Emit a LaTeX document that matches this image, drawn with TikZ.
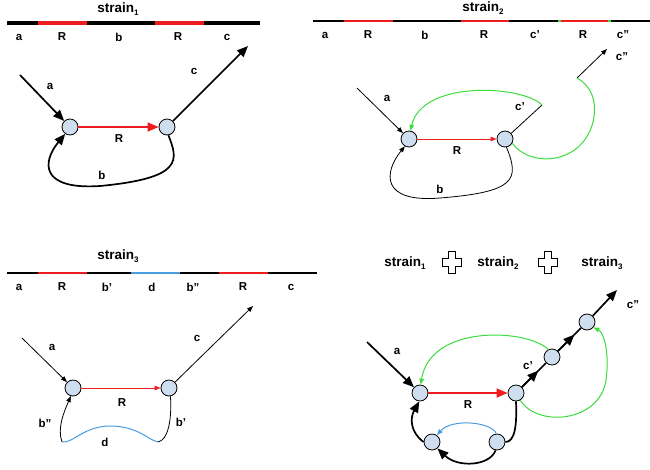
\documentclass[tikz,border=0pt]{standalone}
\usepackage{fontspec}
\setmainfont{Liberation Sans}
\usetikzlibrary{arrows.meta,calc}
\definecolor{nodefill}{HTML}{CFDEEE}
\definecolor{myred}{HTML}{EE1C1C}
\definecolor{mygreen}{HTML}{3CDC3C}
\definecolor{myblue}{HTML}{4A9CE0}
\newcommand{\strn}[1]{strain\raisebox{-0.35ex}{\fontsize{8}{8}\selectfont #1}}
\begin{document}
\begin{tikzpicture}[x=1pt,y=-1pt,
  lbl/.style={font=\fontsize{11.5}{13}\selectfont\bfseries, inner sep=0pt},
  ttl/.style={font=\fontsize{13.5}{15}\selectfont\bfseries, inner sep=0pt},
  vtx/.style={circle, draw=black, fill=nodefill, line width=0.8pt, minimum size=16pt, inner sep=0pt},
  bigtip/.style={-{Triangle[length=11pt,width=9pt]}},
  smalltip/.style={-{Triangle[length=6pt,width=4.5pt]}},
  thk/.style={line width=1.7pt},
  thn/.style={line width=0.8pt},
  gline/.style={mygreen, line width=1pt},
  bline/.style={myblue, line width=1pt},
  bar/.style={line cap=butt},
  pluss/.style={line width=0.8pt, draw=black}
]
\useasboundingbox (0,0) rectangle (650,469);

% ================= Panel 1 =================
\node[ttl] (t1) at (118,9) {\strn{1}};
\begin{scope}[line width=4pt, bar]
\draw[black] (7,23) -- (38,23);
\draw[myred] (38,23) -- (87,23);
\draw[black] (87,23) -- (155,23);
\draw[myred] (155,23) -- (204,23);
\draw[black] (204,23) -- (260,23);
\end{scope}
\node[lbl] (p1a) at (19,37) {a};
\node[lbl] (p1r1) at (62,37) {R};
\node[lbl] (p1b) at (119,37) {b};
\node[lbl] (p1r2) at (178,37) {R};
\node[lbl] (p1c) at (227,37) {c};

\node[vtx] (n11) at (70,127) {};
\node[vtx] (n12) at (167,127) {};
\coordinate (s1a) at (20,75);
\coordinate (e1c) at (248,46);
\draw[thk,bigtip] (s1a) -- (n11);
\draw[thk,bigtip,myred] (n11) -- (n12);
\draw[thk,bigtip] (n12) -- (e1c);
\draw[thk,bigtip] (n12.-80) .. controls (178,160) and (184,178) .. (100,186)
   .. controls (40,190) and (42,162) .. (n11.-125);
\node[lbl] (l1a) at (50,86) {a};
\node[lbl] (l1r) at (119,139) {R};
\node[lbl] (l1c) at (194,71) {c};
\node[lbl] (l1b) at (102,175) {b};

% ================= Panel 2 =================
\node[ttl] (t2) at (483,8) {\strn{2}};
\begin{scope}[line width=2pt, bar]
\draw[black] (313,21) -- (344,21);
\draw[myred] (344,21) -- (393,21);
\draw[black] (393,21) -- (461,21);
\draw[myred] (461,21) -- (509,21);
\draw[black] (509,21) -- (558,21);
\draw[mygreen] (558,21) -- (561,21);
\draw[myred] (561,21) -- (608,21);
\draw[mygreen] (608,21) -- (611,21);
\draw[black] (611,21) -- (650,21);
\end{scope}
\node[lbl] (p2a) at (325,35) {a};
\node[lbl] (p2r1) at (368,35) {R};
\node[lbl] (p2b) at (425,35) {b};
\node[lbl] (p2r2) at (484,35) {R};
\node[lbl] (p2c1) at (535,35) {c'};
\node[lbl] (p2r3) at (583,35) {R};
\node[lbl] (p2c2) at (623,35) {c''};

\node[vtx] (n21) at (409,139) {};
\node[vtx] (n22) at (505,139) {};
\coordinate (s2a) at (357,88);
\coordinate (cp) at (542,105);
\coordinate (cq) at (577,78);
\coordinate (e2c) at (607,49);
\draw[thn,smalltip] (s2a) -- (n21);
\draw[thn,smalltip,myred] (n21) -- (n22);
\draw[thn] (n22) -- (cp);
\draw[gline,smalltip] (cp) .. controls (522,85) and (422,80) .. (n21.80);
\draw[thn,smalltip] (cq) -- (e2c);
\draw[gline] (n22.-30) .. controls (530,168) and (582,165) .. (593,122)
   .. controls (598,100) and (590,85) .. (cq);
\draw[thn,smalltip] (n22.-80) .. controls (520,180) and (515,192) .. (440,198)
   .. controls (380,203) and (384,172) .. (n21.-120);
\node[lbl] (l2a) at (387,98) {a};
\node[lbl] (l2r) at (457,151) {R};
\node[lbl] (l2c1) at (520,107) {c'};
\node[lbl] (l2c2) at (622,57) {c''};
\node[lbl] (l2b) at (440,189) {b};

% ================= Panel 3 =================
\node[ttl] (t3) at (118,256) {\strn{3}};
\begin{scope}[line width=2pt, bar]
\draw[black] (7,273) -- (38,273);
\draw[myred] (38,273) -- (87,273);
\draw[black] (87,273) -- (131,273);
\draw[myblue] (131,273) -- (180,273);
\draw[black] (180,273) -- (219,273);
\draw[myred] (219,273) -- (268,273);
\draw[black] (268,273) -- (317,273);
\end{scope}
\node[lbl] (p3a) at (19,287) {a};
\node[lbl] (p3r1) at (62,287) {R};
\node[lbl] (p3b1) at (107,287) {b'};
\node[lbl] (p3d) at (152,287) {d};
\node[lbl] (p3b2) at (193,287) {b''};
\node[lbl] (p3r2) at (243,287) {R};
\node[lbl] (p3c) at (291,287) {c};

\node[vtx] (n31) at (73,388) {};
\node[vtx] (n32) at (169,388) {};
\coordinate (s3a) at (22,338);
\coordinate (e3c) at (253,306);
\coordinate (dR) at (158,442);
\coordinate (dL) at (62,442);
\draw[thn,smalltip] (s3a) -- (n31);
\draw[thn,smalltip,myred] (n31) -- (n32);
\draw[thn,smalltip] (n32) -- (e3c);
\draw[thn] (n32.-80) .. controls (172,420) and (168,440) .. (dR);
\draw[bline] (dR) .. controls (148,440) and (138,426) .. (110,426)
   .. controls (84,426) and (72,444) .. (dL);
\draw[thn,smalltip] (dL) .. controls (57,428) and (64,412) .. (n31.-105);
\node[lbl] (l3a) at (52,347) {a};
\node[lbl] (l3r) at (122,403) {R};
\node[lbl] (l3c) at (197,338) {c};
\node[lbl] (l3b1) at (181,422) {b'};
\node[lbl] (l3b2) at (45,423) {b''};
\node[lbl] (l3d) at (105,442) {d};

% ================= Panel 4 =================
\node[ttl] (u1) at (405,263) {\strn{1}};
\node[ttl] (u2) at (498,263) {\strn{2}};
\node[ttl] (u3) at (602,263) {\strn{3}};
\draw[pluss] (442,258) -- ++(6,0) -- ++(0,-7) -- ++(7,0) -- ++(0,7) -- ++(6,0) -- ++(0,8)
  -- ++(-6,0) -- ++(0,7) -- ++(-7,0) -- ++(0,-7) -- ++(-6,0) -- cycle;
\draw[pluss] (538,258) -- ++(6,0) -- ++(0,-7) -- ++(7,0) -- ++(0,7) -- ++(6,0) -- ++(0,8)
  -- ++(-6,0) -- ++(0,7) -- ++(-7,0) -- ++(0,-7) -- ++(-6,0) -- cycle;

\node[vtx] (m1) at (420,393) {};
\node[vtx] (m2) at (516,393) {};
\node[vtx] (m3) at (552,357) {};
\node[vtx] (m4) at (587,322) {};
\node[vtx] (m5) at (432,442) {};
\node[vtx] (m6) at (497,442) {};
\coordinate (s4a) at (367,342);
\coordinate (e4c) at (617,290);
\draw[thk,bigtip] (s4a) -- (m1);
\draw[thk,bigtip,myred] (m1) -- (m2);
\draw[thk] (m2) -- (m3);
\draw[thk,bigtip] (m2) -- ($(m2)!0.62!(m3)$);
\draw[thk] (m3) -- (m4);
\draw[thk,bigtip] (m3) -- ($(m3)!0.64!(m4)$);
\draw[thk,bigtip] (m4) -- (e4c);
\draw[gline,smalltip] (m3.115) .. controls (525,328) and (430,325) .. (m1.85);
\draw[gline,smalltip] (m2.-60) .. controls (538,428) and (600,422) .. (606,380)
   .. controls (610,350) and (603,332) .. (m4.-40);
\draw[thk] (m2.-90) .. controls (517,425) and (515,442) .. (m6.east);
\draw[thk,bigtip] (m6.-100) .. controls (490,466) and (458,468) .. (m5.-50);
\draw[thk,bigtip] (m5.west) .. controls (410,432) and (410,418) .. (m1.-95);
\draw[bline,smalltip] (m6.95) .. controls (492,422) and (452,418) .. (m5.55);
\node[lbl] (l4a) at (397,351) {a};
\node[lbl] (l4r) at (468,405) {R};
\node[lbl] (l4c1) at (528,366) {c'};
\node[lbl] (l4c2) at (633,305) {c''};
\end{tikzpicture}
\end{document}
